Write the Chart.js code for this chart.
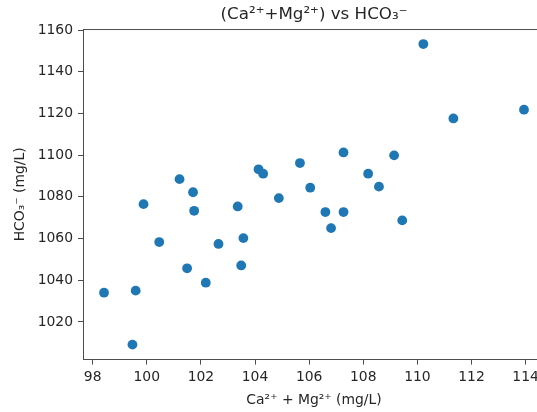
<!DOCTYPE html>
<html>
<head>
<meta charset="utf-8">
<script src="https://cdn.jsdelivr.net/npm/chart.js@4.4.1/dist/chart.umd.min.js"></script>
<style>
  html, body { margin: 0; padding: 0; background: #fff; overflow: hidden; }
  #wrap { width: 537px; height: 412px; overflow: hidden; position: relative; }
  #chart { display: block; }
</style>
</head>
<body>
<div id="wrap">
  <canvas id="chart" width="560" height="412"></canvas>
</div>
<script>
// Ca2+ + Mg2+ (mg/L)
const caMg = [
  110.22, 111.33, 113.94, 107.27, 109.14, 105.66, 104.13, 104.30, 108.18, 101.21,
  101.71, 106.04, 108.58, 104.88, 99.88, 103.36, 101.75, 106.60, 107.27, 109.44,
  106.81, 100.46, 102.65, 103.57, 101.49, 103.49, 102.18, 98.42, 99.59, 99.47
];
// HCO3- (mg/L)
const hco3 = [
  1153.3, 1117.6, 1121.8, 1101.3, 1099.9, 1096.2, 1093.2, 1091.1, 1091.1, 1088.5,
  1082.2, 1084.4, 1084.9, 1079.4, 1076.5, 1075.4, 1073.3, 1072.7, 1072.7, 1068.7,
  1065.0, 1058.3, 1057.4, 1060.2, 1045.7, 1047.1, 1038.8, 1034.0, 1035.0, 1009.1
];
const xTicks = [98, 100, 102, 104, 106, 108, 110, 112, 114];
const yTicks = [1020, 1040, 1060, 1080, 1100, 1120, 1140, 1160];

const FONT = "'DejaVu Sans', sans-serif";
const INK = '#262626';
const SPINE = '#4d4d4d';

// matplotlib style 5% margins around the data
function padded(vals) {
  const lo = Math.min(...vals), hi = Math.max(...vals);
  const m = (hi - lo) * 0.05;
  return [lo - m, hi + m];
}
const [xMin, xMax] = padded(caMg);
const [yMin, yMax] = padded(hco3);

// top spine (right one falls outside the cropped picture)
const topSpine = {
  id: 'topSpine',
  afterDraw(chart) {
    const { ctx, chartArea } = chart;
    ctx.save();
    ctx.strokeStyle = SPINE;
    ctx.lineWidth = 1;
    ctx.beginPath();
    ctx.moveTo(chartArea.left, chartArea.top + 0.5);
    ctx.lineTo(chartArea.right, chartArea.top + 0.5);
    ctx.stroke();
    ctx.restore();
  }
};

new Chart(document.getElementById('chart'), {
  type: 'scatter',
  data: {
    datasets: [{
      data: caMg.map((x, i) => ({ x: x, y: hco3[i] })),
      backgroundColor: '#1f77b4',
      borderWidth: 0,
      pointRadius: 4.9,
      pointHoverRadius: 4.9
    }]
  },
  options: {
    responsive: false,
    devicePixelRatio: 1,
    animation: false,
    layout: { padding: { left: 0, right: 15, top: 0, bottom: 0 } },
    plugins: {
      legend: { display: false },
      tooltip: { enabled: false },
      title: {
        display: true,
        fullSize: false,   // centre over the axes, like matplotlib
        text: '(Ca²⁺+Mg²⁺) vs HCO₃⁻',
        color: INK,
        font: { family: FONT, size: 16.7, weight: 'normal', lineHeight: 1.2 },
        padding: { top: 5, bottom: 4 }
      }
    },
    scales: {
      x: {
        type: 'linear',
        min: xMin,
        max: xMax,
        afterBuildTicks: s => { s.ticks = xTicks.map(v => ({ value: v })); },
        grid: { drawOnChartArea: false, drawTicks: true, tickLength: 5, color: SPINE },
        border: { display: true, color: SPINE, width: 1 },
        ticks: {
          color: INK, padding: 4, maxRotation: 0,
          font: { family: FONT, size: 13.9 },
          callback: v => String(v)
        },
        title: {
          display: true,
          text: 'Ca²⁺ + Mg²⁺ (mg/L)',
          color: INK,
          font: { family: FONT, size: 13.9, lineHeight: 1.2 },
          padding: { top: 3, bottom: 3 }
        }
      },
      y: {
        type: 'linear',
        min: yMin,
        max: yMax,
        afterBuildTicks: s => { s.ticks = yTicks.map(v => ({ value: v })); },
        grid: { drawOnChartArea: false, drawTicks: true, tickLength: 5, color: SPINE },
        border: { display: true, color: SPINE, width: 1 },
        ticks: {
          color: INK, padding: 5,
          font: { family: FONT, size: 13.9 },
          callback: v => String(v)
        },
        title: {
          display: true,
          text: 'HCO₃⁻ (mg/L)',
          color: INK,
          font: { family: FONT, size: 13.9, lineHeight: 1.2 },
          padding: { top: 12, bottom: 4 }
        }
      }
    }
  },
  plugins: [topSpine]
});
</script>
</body>
</html>
